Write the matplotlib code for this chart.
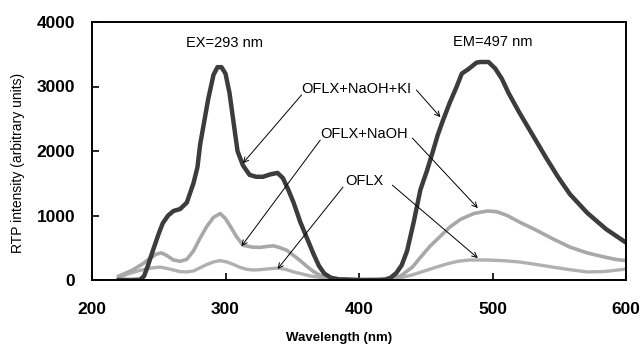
import matplotlib
matplotlib.use("Agg")
import matplotlib.pyplot as plt

# OFLX+NaOH+KI (dark curve)
wl_ki = [220, 230, 236, 239, 242, 246, 250, 253, 257, 261, 266, 271, 276, 279, 281, 284, 287, 291, 294, 297,
         300, 303, 306, 309, 313, 318, 323, 328, 334, 339, 343, 347, 351, 356, 361, 366, 370, 374,
         379, 385, 400, 415, 420, 424, 428, 432, 436, 441, 446, 451, 455, 459, 463, 468, 473, 477, 482,
         488, 491, 497, 502, 507, 512, 520, 530, 540, 549, 558, 571, 585, 600]
int_ki = [0, 0, 5, 60, 230, 480, 720, 880, 1000, 1070, 1100, 1200, 1500, 1750, 2100, 2450, 2800, 3180, 3300, 3300,
          3200, 2900, 2450, 2000, 1780, 1630, 1600, 1600, 1640, 1660, 1580, 1400, 1200, 900, 650, 400, 220, 100,
          35, 10, 0, 0, 8, 40, 110, 230, 450, 900, 1400, 1700, 1970, 2250, 2480, 2750, 2990, 3200, 3270,
          3370, 3380, 3380, 3280, 3120, 2900, 2600, 2250, 1900, 1600, 1330, 1040, 790, 580]

# OFLX+NaOH
wl_naoh = [220, 230, 238, 243, 248, 252, 256, 261, 266, 271, 276, 281, 286, 291, 296, 300, 304, 308,
           313, 320, 326, 331, 336, 341, 346, 351, 356, 361, 366, 371, 380, 400, 420, 431, 440, 446,
           453, 461, 468, 476, 486, 496, 503, 511, 520, 533, 545, 558, 571, 583, 592, 600]
int_naoh = [60, 150, 250, 330, 400, 420, 380, 310, 290, 320, 450, 650, 830, 970, 1030, 950, 820, 680,
            540, 510, 505, 520, 530, 500, 460, 380, 300, 210, 130, 70, 20, 5, 10, 60, 200, 350,
            520, 680, 820, 940, 1030, 1070, 1060, 1000, 900, 770, 640, 510, 420, 360, 320, 300]

# OFLX
wl_oflx = [220, 228, 236, 244, 251, 256, 261, 266, 271, 276, 281, 286, 291, 296, 301, 306, 311, 316,
           321, 326, 333, 339, 345, 351, 358, 364, 371, 380, 400, 420, 430, 440, 449, 458, 466, 474,
           483, 496, 508, 520, 533, 545, 558, 571, 583, 592, 600]
int_oflx = [40, 100, 150, 185, 200, 180, 155, 130, 125, 140, 190, 240, 280, 300, 280, 240, 195, 165,
            155, 160, 175, 185, 165, 125, 90, 60, 40, 15, 5, 10, 30, 80, 140, 200, 250, 290,
            310, 310, 300, 280, 240, 200, 160, 125, 130, 150, 170]

x_ticks = [200, 300, 400, 500, 600]
y_ticks = [0, 1000, 2000, 3000, 4000]

fig = plt.figure(figsize=(6.4, 3.48), dpi=100)
ax = fig.add_axes([92 / 640, 68 / 348, 534 / 640, 258 / 348])

ax.plot(wl_oflx, int_oflx, color="#b0b0b0", lw=2.4)
ax.plot(wl_naoh, int_naoh, color="#a8a8a8", lw=2.6)
ax.plot(wl_ki, int_ki, color="#3c3c3c", lw=3.2)

ax.set_xlim(200, 600)
ax.set_ylim(0, 4000)
ax.set_xticks(x_ticks)
ax.set_yticks(y_ticks)
tick_font = dict(family="Liberation Sans", weight="bold", size=12.5)
ax.set_xticklabels([str(t) for t in x_ticks], fontdict=tick_font)
ax.set_yticklabels([str(t) for t in y_ticks], fontdict=tick_font)
ax.tick_params(axis="x", direction="in", length=5, width=1.2, pad=16)
ax.tick_params(axis="y", direction="in", length=5, width=1.2, pad=12)
for s in ax.spines.values():
    s.set_linewidth(1.4)

fig.text(18 / 640, 1 - 163 / 348, "RTP intensity (arbitrary units)", rotation=90,
         ha="center", va="center", family="Liberation Sans", size=10)
fig.text(339 / 640, 1 - 338 / 348, "Wavelength (nm)", ha="center", va="center",
         family="Liberation Sans", weight="bold", size=9.5)

lab = dict(family="Liberation Sans", size=10.5, ha="center", va="center")
ax.text(299, 3670, "EX=293 nm", **lab)
ax.text(500, 3690, "EM=497 nm", **lab)
ax.text(398, 2960, "OFLX+NaOH+KI", **lab)
ax.text(404, 2260, "OFLX+NaOH", **lab)
ax.text(404, 1535, "OFLX", **lab)

arrows = [
    ((357, 2870), (313, 1810)),
    ((443, 2945), (461, 2525)),
    ((371, 2170), (312, 525)),
    ((440, 2200), (489, 1115)),
    ((388, 1440), (339, 170)),
    ((425, 1470), (489, 340)),
]
for start, tip in arrows:
    ax.annotate("", xy=tip, xytext=start,
                arrowprops=dict(arrowstyle="->", lw=0.7, color="black",
                                shrinkA=0, shrinkB=0, mutation_scale=9))

fig.savefig("out.png", dpi=100)
